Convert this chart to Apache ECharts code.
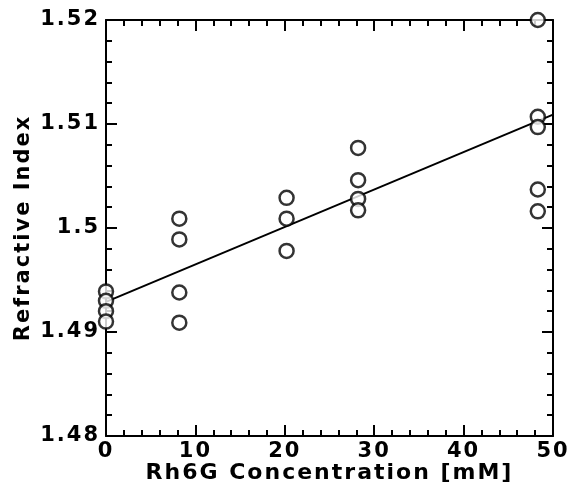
<!DOCTYPE html>
<html><head><meta charset="utf-8">
<script src="https://cdn.jsdelivr.net/npm/echarts@6/dist/echarts.min.js"></script>
<style>html,body{margin:0;padding:0;background:#fff}#c{width:571px;height:488px}</style>
</head><body><div id="c"></div>
<script>
const xCats = [0, 8.2, 20.2, 28.2, 48.3];
const conc0 = [1.4939, 1.4930, 1.4920, 1.4910];
const conc8 = [1.5009, 1.4989, 1.4938, 1.4909];
const conc20 = [1.5029, 1.5009, 1.4978];
const conc28 = [1.5077, 1.5046, 1.5028, 1.5017];
const conc48 = [1.5200, 1.5107, 1.5097, 1.5037, 1.5016];
const fitX = [0, 50];
const fitY = [1.4929, 1.5109];
const xTicks = [0, 10, 20, 30, 40, 50];
const yTicks = [1.48, 1.49, 1.50, 1.51, 1.52];

// spaced lettering, as in the reference
(function () {
  const P = CanvasRenderingContext2D.prototype;
  const orig = P.fillText;
  P.fillText = function (t, x, y, w) {
    const fs = parseFloat((this.font.match(/(\d+(?:\.\d+)?)px/) || [0, 12])[1]);
    this.letterSpacing = fs >= 19 ? '2px' : '0px';
    return w === undefined ? orig.call(this, t, x, y) : orig.call(this, t, x, y, w);
  };
})();

const groups = [conc0, conc8, conc20, conc28, conc48];
const pts = [];
groups.forEach((g, i) => g.forEach(v => pts.push([xCats[i], v])));
const fit = fitX.map((x, i) => [x, fitY[i]]);

const font = '"DejaVu Sans", Arial, sans-serif';
const axBase = {
  axisLine: {show: true, onZero: false, lineStyle: {color: '#000', width: 2}},
  axisTick: {show: true, inside: true, length: 11, lineStyle: {color: '#000', width: 2}},
  minorTick: {show: true, splitNumber: 5, length: 6, lineStyle: {color: '#000', width: 2}},
  splitLine: {show: false}
};
const chart = echarts.init(document.getElementById('c'), null, {renderer: 'canvas'});
chart.setOption({
  animation: false,
  backgroundColor: '#fff',
  grid: {left: 106, right: 18, top: 20, bottom: 52, containLabel: false, outerBoundsMode: 'none'},
  xAxis: [
    Object.assign({}, axBase, {
      type: 'value', min: xTicks[0], max: xTicks[xTicks.length - 1], interval: 10, position: 'bottom',
      name: 'Rh6G Concentration [mM]', nameLocation: 'middle', nameGap: 26, nameMoveOverlap: false,
      nameTextStyle: {fontFamily: font, fontWeight: 'bold', fontSize: 22, color: '#000'},
      axisLabel: {fontFamily: font, fontWeight: 'bold', fontSize: 21, color: '#000', margin: 5}
    }),
    Object.assign({}, axBase, {
      type: 'value', min: xTicks[0], max: xTicks[xTicks.length - 1], interval: 10, position: 'top',
      axisLabel: {show: false}
    })
  ],
  yAxis: [
    Object.assign({}, axBase, {
      type: 'value', min: yTicks[0], max: yTicks[yTicks.length - 1], interval: 0.01, position: 'left',
      name: 'Refractive Index', nameLocation: 'middle', nameGap: 72, nameRotate: 90, nameMoveOverlap: false,
      nameTextStyle: {fontFamily: font, fontWeight: 'bold', fontSize: 21, color: '#000'},
      axisLabel: {fontFamily: font, fontWeight: 'bold', fontSize: 21, color: '#000', margin: 6,
        formatter: v => String(+v.toFixed(2))}
    }),
    Object.assign({}, axBase, {
      type: 'value', min: yTicks[0], max: yTicks[yTicks.length - 1], interval: 0.01, position: 'right',
      axisLabel: {show: false}
    })
  ],
  series: [
    {type: 'line', data: fit, symbol: 'none', lineStyle: {color: '#000', width: 2}, z: 2},
    {type: 'scatter', data: pts, symbol: 'circle', symbolSize: 14, clip: false,
      itemStyle: {color: '#fff', borderColor: '#000', borderWidth: 2.5}, z: 3}
  ]
});
</script></body></html>
